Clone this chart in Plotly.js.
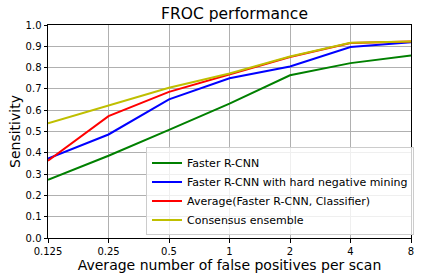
<!DOCTYPE html>
<html><head><meta charset="utf-8">
<script src="https://cdn.plot.ly/plotly-3.0.1.min.js"></script>
<style>html,body{margin:0;padding:0;background:#fff;}#chart{width:424px;height:280px;}</style>
</head><body><div id="chart"></div>
<script>
const fps = [0.125, 0.25, 0.5, 1, 2, 4, 8];
const tickLabels = ['0.125', '0.25', '0.5', '1', '2', '4', '8'];
const fasterRCNN = [0.273, 0.386, 0.508, 0.631, 0.764, 0.821, 0.857];
const hardNeg = [0.373, 0.486, 0.651, 0.750, 0.805, 0.897, 0.919];
const averageCls = [0.363, 0.572, 0.686, 0.769, 0.850, 0.915, 0.922];
const consensus = [0.539, 0.623, 0.705, 0.772, 0.852, 0.917, 0.923];
const yTicks = [0,0.1,0.2,0.3,0.4,0.5,0.6,0.7,0.8,0.9,1.0];
const yLabels = ['0.0','0.1','0.2','0.3','0.4','0.5','0.6','0.7','0.8','0.9','1.0'];

const mk = (y, name, color) => ({x: fps, y: y, name: name, type: 'scatter', mode: 'lines',
  line: {color: color, width: 2}});
const data = [
  mk(fasterRCNN, 'Faster R-CNN', '#008000'),
  mk(hardNeg, 'Faster R-CNN with hard negative mining', '#0000ff'),
  mk(averageCls, 'Average(Faster R-CNN, Classifier)', '#ff0000'),
  mk(consensus, 'Consensus ensemble', '#bfbf00')
];
const font = {family: 'DejaVu Sans', color: '#000'};
const layout = {
  width: 424, height: 280,
  margin: {l: 48, r: 10, t: 25, b: 42},
  paper_bgcolor: '#fff', plot_bgcolor: '#fff',
  font: font,
  showlegend: true,
  title: {text: 'FROC performance', font: {family: 'DejaVu Sans', size: 15.5, color: '#000'}, x: 0.553, xanchor: 'center', y: 0.95, yanchor: 'middle'},
  xaxis: {type: 'log', range: [Math.log10(0.125), Math.log10(8)], tickvals: fps, ticktext: tickLabels,
    showgrid: true, gridcolor: '#b0b0b0', gridwidth: 1, showline: true, linecolor: '#000', linewidth: 1, mirror: true,
    ticks: 'outside', ticklen: 3.5, tickcolor: '#000', tickfont: {size: 10, family: 'DejaVu Sans'}, zeroline: false,
    title: {text: 'Average number of false positives per scan', font: {size: 14, family: 'DejaVu Sans'}, standoff: 4}},
  yaxis: {range: [0, 1], tickvals: yTicks, ticktext: yLabels,
    showgrid: true, gridcolor: '#b0b0b0', gridwidth: 1, showline: true, linecolor: '#000', linewidth: 1, mirror: true,
    ticks: 'outside', ticklen: 3.5, tickcolor: '#000', tickfont: {size: 10, family: 'DejaVu Sans'}, zeroline: false,
    title: {text: 'Sensitivity', font: {size: 14, family: 'DejaVu Sans'}, standoff: 1}},
  legend: {x: 0.27, y: 0.012, xanchor: 'left', yanchor: 'bottom', bgcolor: 'rgba(255,255,255,0.8)',
    bordercolor: '#cccccc', borderwidth: 1, font: {size: 11, family: 'DejaVu Sans'}, tracegroupgap: 0}
};
Plotly.newPlot('chart', data, layout, {displayModeBar: false, staticPlot: true});
</script></body></html>
